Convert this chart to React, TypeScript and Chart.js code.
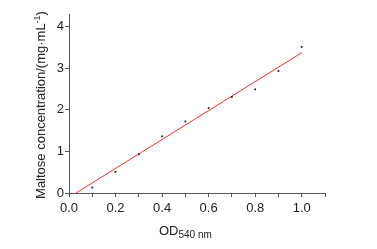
import React, { useEffect, useRef } from "react";
import { Chart, registerables } from "chart.js";

Chart.register(...registerables);

const odValues = [0.1, 0.2, 0.3, 0.4, 0.5, 0.6, 0.7, 0.8, 0.9, 1.0];
const maltoseValues = [0.13, 0.51, 0.93, 1.36, 1.72, 2.04, 2.31, 2.49, 2.93, 3.51];
const fitX = [0.03, 1.0];
const fitY = [0, 3.37];
const xTitleMain = "OD";
const xTitleSub = "540 nm";
const yTitleMain = "Maltose concentration/(mg·mL";
const yTitleSup = "-1";
const yTitleEnd = ")";

const FONT = "'Liberation Sans', Arial, sans-serif";

const titlePlugin = {
  id: "titles",
  afterDraw(chart: any) {
    const ctx = chart.ctx;
    ctx.save();
    ctx.fillStyle = "#222";
    ctx.textBaseline = "alphabetic";
    ctx.textAlign = "left";
    // X title
    ctx.font = `13px ${FONT}`;
    const wMain = ctx.measureText(xTitleMain).width;
    ctx.font = `10px ${FONT}`;
    const wSub = ctx.measureText(xTitleSub).width;
    const cx = (chart.chartArea.left + chart.chartArea.right) / 2 + 0;
    const startX = 159;
    ctx.font = `13px ${FONT}`;
    ctx.fillText(xTitleMain, startX, 235);
    ctx.font = `10px ${FONT}`;
    ctx.fillText(xTitleSub, startX + wMain, 238);
    void cx; void wSub;

    // Y title
    ctx.font = `13px ${FONT}`;
    const w1 = ctx.measureText(yTitleMain).width;
    ctx.font = `9px ${FONT}`;
    const w2 = ctx.measureText(yTitleSup).width;
    ctx.font = `13px ${FONT}`;
    const w3 = ctx.measureText(yTitleEnd).width;
    const total = w1 + w2 + w3;
    ctx.translate(45, 105);
    ctx.rotate(-Math.PI / 2);
    let x = -total / 2;
    ctx.font = `13px ${FONT}`;
    ctx.fillText(yTitleMain, x, 0);
    x += w1;
    ctx.font = `9px ${FONT}`;
    ctx.fillText(yTitleSup, x, -5);
    x += w2;
    ctx.font = `13px ${FONT}`;
    ctx.fillText(yTitleEnd, x, 0);
    ctx.restore();
  },
};

export default function App() {
  const ref = useRef<HTMLCanvasElement>(null);
  useEffect(() => {
    const canvas = ref.current!;
    const chart = new Chart(canvas, {
      type: "scatter",
      data: {
        datasets: [
          {
            label: "fit",
            data: fitX.map((x, i) => ({ x, y: fitY[i] })),
            showLine: true,
            borderColor: "#ff2a2a",
            borderWidth: 1,
            pointRadius: 0,
            order: 2,
          },
          {
            label: "data",
            data: odValues.map((x, i) => ({ x, y: maltoseValues[i] })),
            pointStyle: "rect",
            pointRadius: 1.2,
            backgroundColor: "#111",
            borderColor: "#111",
            borderWidth: 0,
            order: 1,
          },
        ],
      },
      options: {
        animation: false,
        responsive: false,
        devicePixelRatio: 1,
        layout: { padding: { left: 0, right: 52, top: 14, bottom: 0 } },
        plugins: { legend: { display: false }, tooltip: { enabled: false } },
        scales: {
          x: {
            type: "linear",
            min: 0,
            max: 1.1,
            border: { display: true, color: "#555", width: 1 },
            grid: { display: true, drawOnChartArea: false, drawTicks: true, tickLength: 4, color: "#555" },
            ticks: {
              stepSize: 0.1,
              includeBounds: false,
              autoSkip: false,
              maxRotation: 0,
              padding: 4,
              color: "#222",
              font: { family: FONT, size: 13 },
              callback: (v: any) => {
                const n = Math.round(Number(v) * 10);
                if (n % 2 !== 0 || n > 10) return "";
                return (n / 10).toFixed(1);
              },
            },
            afterFit: (s: any) => { s.height = 56; },
          },
          y: {
            type: "linear",
            min: 0,
            max: 4.3,
            border: { display: true, color: "#555", width: 1 },
            grid: { display: true, drawOnChartArea: false, drawTicks: true, tickLength: 4, color: "#555" },
            ticks: {
              stepSize: 1,
              includeBounds: false,
              padding: 1,
              color: "#222",
              font: { family: FONT, size: 13 },
              callback: (v: any) => String(Math.round(Number(v))),
            },
            afterFit: (s: any) => { s.width = 69; },
          },
        },
      },
      plugins: [titlePlugin],
    });
    return () => chart.destroy();
  }, []);
  return (
    <div style={{ position: "absolute", left: 0, top: 0, width: 377, height: 249, background: "#fff" }}>
      <canvas ref={ref} width={377} height={249} style={{ width: 377, height: 249, display: "block" }} />
    </div>
  );
}
